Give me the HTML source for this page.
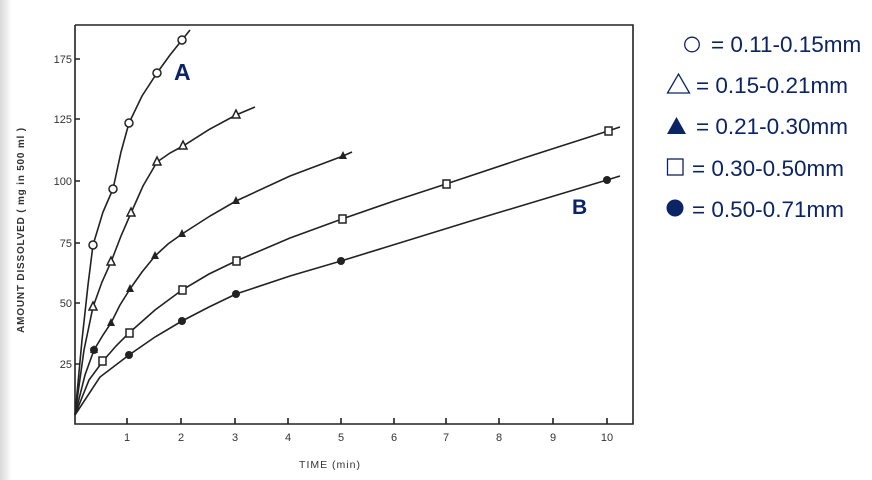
<!DOCTYPE html>
<html><head><meta charset="utf-8"><style>
html,body{margin:0;padding:0;background:#fff;}
body{width:872px;height:480px;overflow:hidden;position:relative;font-family:"Liberation Sans",sans-serif;}
</style></head><body>
<div style="position:absolute;left:0;top:0;width:12px;height:480px;background:linear-gradient(90deg,#d8d8d8,#fff);"></div>
<svg width="872" height="480" style="position:absolute;left:0;top:0" font-family="Liberation Sans, sans-serif">
<g fill="none" stroke="#222" stroke-width="1.6">
<polyline points="75,25 633,25 633,424 75,424 75,25"/>
<path d="M127,424v-6M181,424v-6M235,424v-6M288,424v-6M341,424v-6M394,424v-6M446,424v-6M499,424v-6M553,424v-6M607,424v-6"/>
<path d="M75,59h5M75,119h5M75,181h5M75,243h5M75,303h5M75,364h5"/>
<polyline points="75,415 82,340 88,285 93,245 103,212 113,189 121,152 129,123 142,96 157,73 170,55 182,40 190,30"/>
<polyline points="75,415 84,350 93,307 102,282 111,262 121,236 131,213 143,186 157,162 170,153 183,146 210,129 236,115 255,107"/>
<polyline points="75,415 85,375 94,350 103,335 111,323 120,305 130,289 142,272 155,256 168,244 182,234 210,216 236,201 290,176 343,156 352,152"/>
<polyline points="75,415 89,380 103,361 116,346 129,333 155,310 182,290 209,274 236,261 290,238 342,219 394,201 446,184 527,157 608,131 620,127"/>
<polyline points="75,415 100,377 129,355 155,337 182,321 209,307 236,294 290,276 341,261 474,220 607,180 620,176"/>
</g>
<g fill="#fff" stroke="#222" stroke-width="1.5">
<circle cx="93" cy="245" r="4"/><circle cx="113" cy="189" r="4"/><circle cx="129" cy="123" r="4"/><circle cx="157" cy="73" r="4"/><circle cx="182" cy="40" r="4"/>
<path d="M93,302l4,8h-8zM111,257l4,8h-8zM131,208l4,8h-8zM157,157l4,8h-8zM183,141l4,8h-8zM236,110l4,8h-8z"/>
<rect x="99" y="357" width="7" height="8"/><rect x="126" y="329" width="7" height="8"/><rect x="179" y="286" width="7" height="8"/><rect x="233" y="257" width="7" height="8"/><rect x="339" y="215" width="7" height="8"/><rect x="443" y="180" width="7" height="8"/><rect x="605" y="127" width="7" height="8"/>
</g>
<g fill="#222">
<path d="M94,345l4,8h-8zM111,318l4,8h-8zM130,284l4,8h-8zM155,251l4,8h-8zM182,229l4,8h-8zM236,196l4,8h-8zM343,151l4,8h-8z"/>
<circle cx="94" cy="350" r="4"/><circle cx="129" cy="355" r="4"/><circle cx="182" cy="321" r="4"/><circle cx="236" cy="294" r="4"/><circle cx="341" cy="261" r="4"/><circle cx="607" cy="180" r="4"/>
</g>
<g font-size="11" fill="#333" text-anchor="end">
<text x="72" y="63">175</text><text x="72" y="123">125</text><text x="72" y="185">100</text><text x="72" y="247">75</text><text x="72" y="307">50</text><text x="72" y="368">25</text>
</g>
<g font-size="11" fill="#333" text-anchor="middle">
<text x="127" y="441">1</text><text x="181" y="441">2</text><text x="235" y="441">3</text><text x="288" y="441">4</text><text x="341" y="441">5</text><text x="394" y="441">6</text><text x="446" y="441">7</text><text x="499" y="441">8</text><text x="553" y="441">9</text><text x="607" y="441">10</text>
</g>
<text x="330" y="468" font-size="10.5" fill="#333" text-anchor="middle" letter-spacing="1">TIME (min)</text>
<text transform="translate(24,230) rotate(-90)" font-size="10" fill="#333" text-anchor="middle" letter-spacing="0.8" font-weight="bold">AMOUNT DISSOLVED ( mg in 500 ml )</text>
<text x="174" y="80" font-size="23" font-weight="bold" fill="#0b2466">A</text>
<text x="572" y="214" font-size="21" font-weight="bold" fill="#0b2466">B</text>
<g fill="none" stroke="#0b2466" stroke-width="1.3">
<circle cx="692" cy="44.5" r="7.3"/>
<path d="M667.5,93h22l-11,-19z"/>
<rect x="667.5" y="159" width="15.5" height="16"/>
</g>
<g fill="#0b2466">
<path d="M667,134h19l-9.5,-17z"/>
<circle cx="675" cy="208" r="8.5"/>
</g>
<g font-size="22.5" fill="#0b2466">
<text x="711" y="52">= 0.11-0.15mm</text>
<text x="696" y="93">= 0.15-0.21mm</text>
<text x="696" y="134">= 0.21-0.30mm</text>
<text x="692" y="176">= 0.30-0.50mm</text>
<text x="692" y="217">= 0.50-0.71mm</text>
</g>
</svg>
</body></html>
